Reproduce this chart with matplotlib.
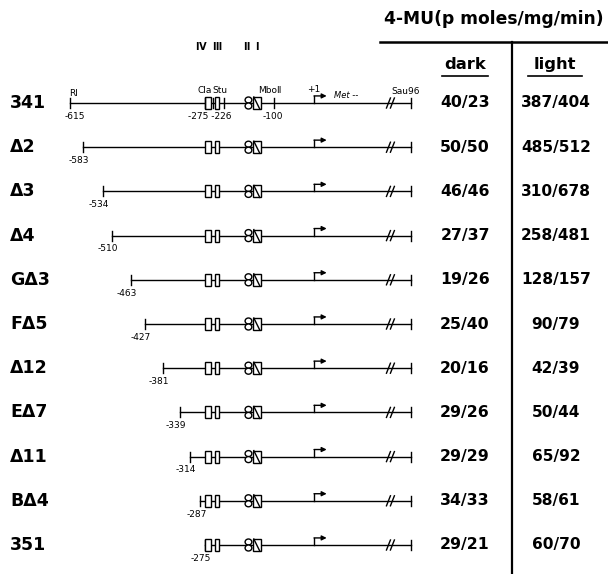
import matplotlib.pyplot as plt
from matplotlib.patches import Rectangle, Ellipse

# constructs: name, 5' deletion end point (bp), GUS activity dark / light
names = ['341', 'Δ2', 'Δ3', 'Δ4', 'GΔ3', 'FΔ5', 'Δ12', 'EΔ7', 'Δ11', 'BΔ4', '351']
starts = [-615, -583, -534, -510, -463, -427, -381, -339, -314, -287, -275]
dark = ['40/23', '50/50', '46/46', '27/37', '19/26', '25/40', '20/16', '29/26', '29/29', '34/33', '29/21']
light = ['387/404', '485/512', '310/678', '258/481', '128/157', '90/79', '42/39', '50/44', '65/92', '58/61', '60/70']

# promoter features (bp)
boxes_cla = [(-275, -259), (-251, -239)]
boxes_mbo = [(-174, -157), (-155, -134)]
box_names = ['Ⅳ', 'Ⅲ', 'Ⅱ', 'Ⅰ']
box_name_pos = [-287, -246, -172, -143]
sites_341 = [-275, -255, -228, -100]
site_labels = [(-615, '-615'), (-262, '-275 -226'), (-105, '-100')]
brk = 188
end = 245

W, H = 608, 574
px0, scale = 314, 0.396     # pixel of +1, pixels per bp
y0, dy = 103, 44.2          # pixel of first row, row spacing

fig = plt.figure(figsize=(W / 100, H / 100), dpi=100)
ax = fig.add_axes([0, 0, 1, 1])
ax.set_xlim(-px0 / scale, (W - px0) / scale)
ax.set_ylim((H - y0) / dy, -y0 / dy)
ax.axis('off')

tab = fig.add_axes([0, 0, 1, 1])
tab.set_xlim(0, W)
tab.set_ylim((H - y0) / dy, -y0 / dy)
tab.axis('off')
tab.patch.set_alpha(0)

tick = 5 / dy
bh = 6 / dy
lw = 1.0
small = dict(fontsize=6.5, family='DejaVu Sans', ha='center')

for i, (name, s) in enumerate(zip(names, starts)):
    y = i
    ax.plot([s, end], [y, y], color='k', lw=lw, zorder=1)
    ax.plot([s, s], [y - tick, y + tick], color='k', lw=lw)
    ax.plot([end, end], [y - tick, y + tick], color='k', lw=lw)
    # break marks
    for dx in (0, 10):
        ax.plot([brk + dx - 5, brk + dx + 5], [y + tick, y - tick], color='k', lw=lw)
    # boxes
    for (a, b) in boxes_cla:
        ax.add_patch(Rectangle((a, y - bh), b - a, 2 * bh, fc='white', ec='k', lw=lw, zorder=2))
    (a, b) = boxes_mbo[0]
    m = (a + b) / 2
    for yy in (y - bh / 2, y + bh / 2):
        ax.add_patch(Ellipse((m, yy), b - a, bh, fc='white', ec='k', lw=lw, zorder=2))
    (a, b) = boxes_mbo[1]
    ax.add_patch(Rectangle((a, y - bh), b - a, 2 * bh, fc='white', ec='k', lw=lw, zorder=2))
    ax.plot([a + 3, b - 3], [y - bh, y + bh], color='k', lw=lw, zorder=3)
    # transcription start
    ax.plot([0, 0], [y, y - 0.16], color='k', lw=lw)
    ax.annotate('', xy=(32, y - 0.16), xytext=(0, y - 0.16),
                arrowprops=dict(arrowstyle='-|>', lw=lw, color='k', mutation_scale=7,
                                shrinkA=0, shrinkB=0))
    if i > 0:
        ax.text(s - 10, y + 0.3, str(s), va='center', **small)

    tab.text(10, y, name, fontsize=12.5, fontweight='bold', va='center', ha='left')
    tab.text(465, y, dark[i], fontsize=11.3, fontweight='bold', va='center', ha='center')
    tab.text(556, y, light[i], fontsize=11.1, fontweight='bold', va='center', ha='center')

# extra annotation on the full-length construct
for p in sites_341:
    ax.plot([p, p], [-tick, tick], color='k', lw=lw)
for p, t in site_labels:
    ax.text(p + 10 if p == -615 else p, 0.3, t, va='center', **small)
ax.text(-607, -0.22, 'RI', va='center', **small)
ax.text(-275, -0.28, 'Cla', va='center', **small)
ax.text(-238, -0.28, 'Stu', va='center', **small)
ax.text(-112, -0.28, 'MboⅡ', va='center', **small)
ax.text(0, -0.3, '+1', va='center', **small)
ax.text(82, -0.16, 'Met --', va='center', style='italic', fontsize=6, ha='center')
ax.text(232, -0.27, 'Sau96', va='center', **small)
for p, t in zip(box_name_pos, box_names):
    ax.text(p, -1.27, t, va='center', ha='center', fontsize=7, fontweight='bold')

# table header
tab.text(494, -1.90, '4-MU(p moles/mg/min)', fontsize=12.3, fontweight='bold', ha='center', va='center')
tab.plot([380, W], [-1.38, -1.38], color='k', lw=1.8)
tab.plot([512, 512], [-1.38, (H - y0) / dy], color='k', lw=1.6)
tab.text(465, -0.86, 'dark', fontsize=11.8, fontweight='bold', ha='center', va='center')
tab.text(555, -0.86, 'light', fontsize=11.8, fontweight='bold', ha='center', va='center')
tab.plot([442, 488], [-0.61, -0.61], color='k', lw=1.2)
tab.plot([528, 582], [-0.61, -0.61], color='k', lw=1.2)

fig.savefig('out.png', dpi=100)
